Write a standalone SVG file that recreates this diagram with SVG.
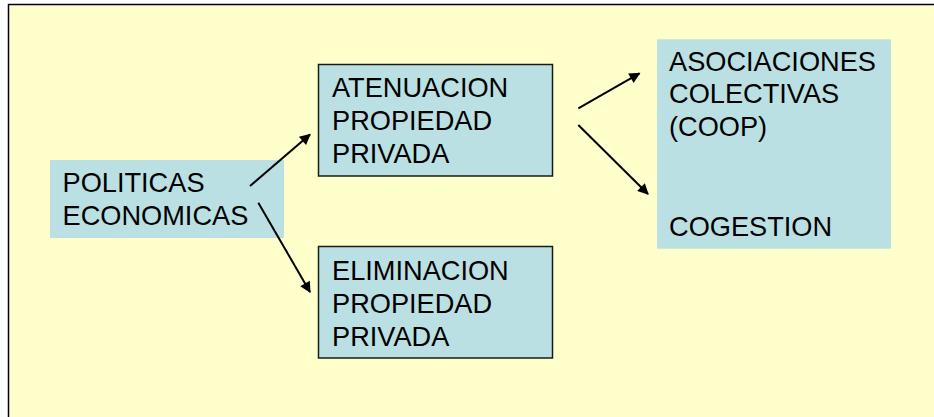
<svg xmlns="http://www.w3.org/2000/svg" width="934" height="417" viewBox="0 0 934 417">
<defs>
<style>
.t{font-family:"Liberation Sans",Arial,sans-serif;font-size:27.2px;fill:#000}
.box{fill:#BBE0E3}
.bd{stroke:#1a1a1a;stroke-width:1.5}
.c{stroke:#000;stroke-width:2;fill:none;marker-end:url(#ah)}
</style>
<marker id="ah" viewBox="0 0 10 10" refX="9" refY="5" markerWidth="6.5" markerHeight="5.5" markerUnits="strokeWidth" orient="auto">
<path d="M0,0 L10,5 L0,10 z" fill="#000"/>
</marker>
</defs>
<rect x="0" y="0" width="934" height="417" fill="#fff"/>
<rect x="8.5" y="4.5" width="940" height="430" fill="#FFFFCC" stroke="#000" stroke-width="1.5"/>
<g id="politicas">
<rect class="box" x="50" y="160" width="234" height="78"/>
<text class="t" x="62.5" y="192.3">POLITICAS</text>
<text class="t" x="62.5" y="225">ECONOMICAS</text>
</g>
<g id="atenuacion">
<rect class="box bd" x="318.5" y="64.5" width="234" height="111.5"/>
<text class="t" x="332" y="96.7">ATENUACION</text>
<text class="t" x="332" y="130">PROPIEDAD</text>
<text class="t" x="332" y="163.3">PRIVADA</text>
</g>
<g id="eliminacion">
<rect class="box bd" x="318.5" y="246.5" width="234" height="111.5"/>
<text class="t" x="332" y="280">ELIMINACION</text>
<text class="t" x="332" y="312.7">PROPIEDAD</text>
<text class="t" x="332" y="346">PRIVADA</text>
</g>
<g id="asociaciones">
<rect class="box" x="657" y="39.3" width="234" height="209.4"/>
<text class="t" x="669" y="70.7">ASOCIACIONES</text>
<text class="t" x="669" y="103.3">COLECTIVAS</text>
<text class="t" x="669" y="136">(COOP)</text>
<text class="t" x="669" y="236">COGESTION</text>
</g>
<g id="connectors">
<line class="c" x1="250" y1="186" x2="310" y2="134.5"/>
<line class="c" x1="258.3" y1="202.7" x2="310" y2="292"/>
<line class="c" x1="578.3" y1="108.3" x2="639.5" y2="73.3"/>
<line class="c" x1="578.3" y1="125" x2="648" y2="194"/>
</g>
</svg>
